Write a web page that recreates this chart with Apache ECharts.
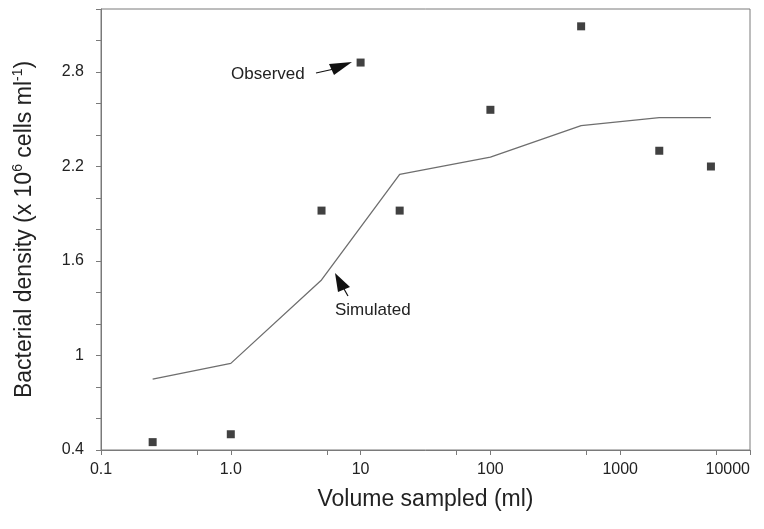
<!DOCTYPE html>
<html>
<head>
<meta charset="utf-8">
<script src="https://cdn.jsdelivr.net/npm/echarts@6/dist/echarts.min.js"></script>
<style>
  html, body { margin: 0; padding: 0; background: #fff; }
  #chart { width: 764px; height: 529px; }
</style>
</head>
<body>
<div id="chart"></div>
<script>
// ── Data ──────────────────────────────────────────────────────────────────────
const observedVolume  = [0.25, 1, 5, 10, 20, 100, 500, 2000, 5000];
const observedDensity = [0.45, 0.50, 1.92, 2.86, 1.92, 2.56, 3.09, 2.30, 2.20];

const simulatedVolume  = [0.25, 1, 5, 20, 100, 500, 2000, 5000];
const simulatedDensity = [0.85, 0.95, 1.48, 2.15, 2.26, 2.46, 2.51, 2.51];

const yLabelValues = [0.4, 1, 1.6, 2.2, 2.8];

const FONT = 'Liberation Sans, Arial, sans-serif';
const AXIS_GREY = '#7a7a7a';

function pairs(xs, ys) {
  return xs.map((x, i) => [x, ys[i]]);
}

const chart = echarts.init(document.getElementById('chart'), null, { renderer: 'canvas' });

chart.setOption({
  animation: false,
  backgroundColor: '#fff',
  textStyle: { fontFamily: FONT },
  grid: {
    left: 101, right: 14, top: 9, bottom: 79,
    outerBoundsMode: 'none',
    containLabel: false,
    show: true, borderColor: AXIS_GREY, borderWidth: 1,
  },
  xAxis: {
    type: 'log',
    logBase: 10,
    min: 0.1,
    max: 10000,
    name: 'Volume sampled (ml)',
    nameLocation: 'middle',
    nameGap: 38,
    nameTextStyle: { fontSize: 23, color: '#222', fontFamily: FONT },
    axisLine: { lineStyle: { color: AXIS_GREY, width: 1 } },
    axisTick: { show: true, inside: false, length: 5, lineStyle: { color: AXIS_GREY } },
    minorTick: { show: true, splitNumber: 2, length: 5, lineStyle: { color: AXIS_GREY } },
    splitLine: { show: false },
    axisLabel: {
      fontSize: 16, color: '#222', margin: 12, fontFamily: FONT,
      alignMaxLabel: 'right',
      formatter: v => (v === 1 ? '1.0' : String(v)),
    },
  },
  yAxis: {
    type: 'value',
    min: 0.4,
    max: 3.2,
    interval: 0.2,
    name: 'Bacterial density (x 10{sup|6} cells ml{sup|-1})',
    nameLocation: 'middle',
    nameRotate: 90,
    nameGap: 62,
    nameTextStyle: {
      fontSize: 23, color: '#222', fontFamily: FONT, lineHeight: 28,
      rich: {
        sup: { fontSize: 14, color: '#222', fontFamily: FONT, verticalAlign: 'top', lineHeight: 16 },
      },
    },
    axisLine: { show: true, lineStyle: { color: AXIS_GREY, width: 1 } },
    axisTick: { show: true, inside: false, length: 5, lineStyle: { color: AXIS_GREY } },
    splitLine: { show: false },
    axisLabel: {
      fontSize: 16, color: '#222', margin: 17, fontFamily: FONT,
      formatter: v => {
        const hit = yLabelValues.find(t => Math.abs(t - v) < 1e-6);
        return hit === undefined ? '' : String(hit);
      },
    },
  },
  series: [
    {
      name: 'Simulated',
      type: 'line',
      data: pairs(simulatedVolume, simulatedDensity),
      showSymbol: false,
      symbol: 'none',
      lineStyle: { color: '#6e6e6e', width: 1.3 },
      z: 2,
    },
    {
      name: 'Observed',
      type: 'scatter',
      data: pairs(observedVolume, observedDensity),
      symbol: 'rect',
      symbolSize: 8,
      itemStyle: { color: '#111' },
      z: 3,
    },
  ],
  graphic: [
    {
      type: 'text', left: 231, top: 66,
      style: { text: 'Observed', font: '17px ' + FONT, fill: '#222' },
    },
    {
      type: 'line',
      shape: { x1: 316, y1: 73, x2: 334, y2: 69 },
      style: { stroke: '#111', lineWidth: 1.2 },
    },
    {
      type: 'polygon',
      shape: { points: [[352, 62], [329, 64], [334, 75]] },
      style: { fill: '#111' },
    },
    {
      type: 'text', left: 335, top: 302,
      style: { text: 'Simulated', font: '17px ' + FONT, fill: '#222' },
    },
    {
      type: 'polygon',
      shape: { points: [[335, 273], [338, 292], [350, 287]] },
      style: { fill: '#111' },
    },
    {
      type: 'line',
      shape: { x1: 344, y1: 289, x2: 348, y2: 296 },
      style: { stroke: '#111', lineWidth: 1.2 },
    },
  ],
});
</script>
</body>
</html>
